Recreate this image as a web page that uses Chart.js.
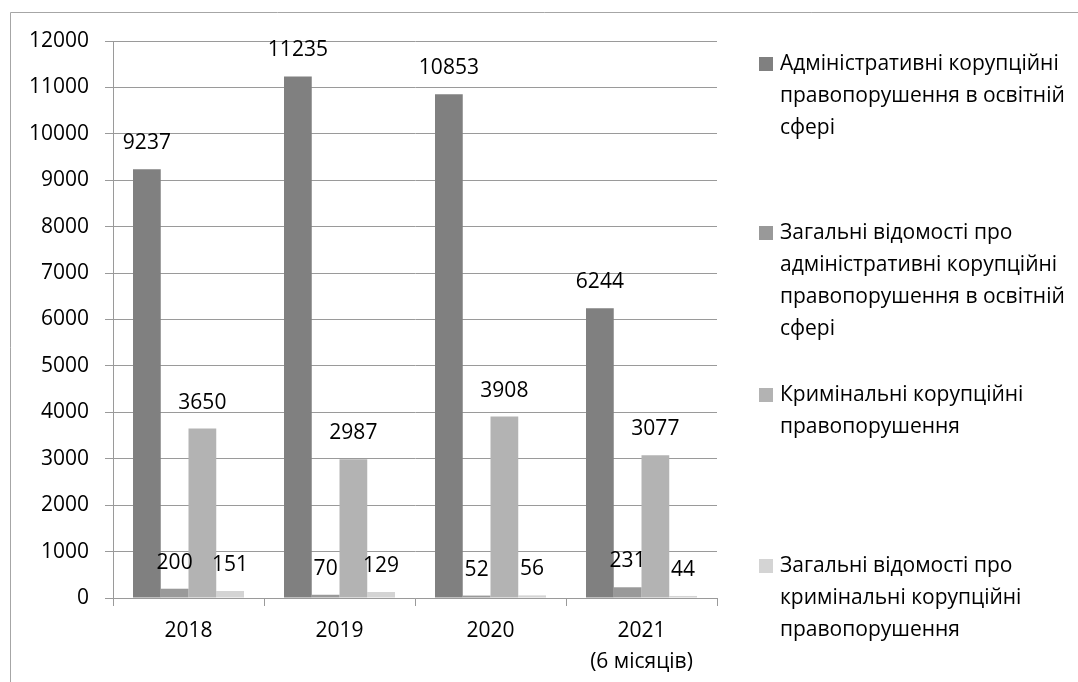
<!DOCTYPE html>
<html>
<head>
<meta charset="utf-8">
<script src="https://cdn.jsdelivr.net/npm/chart.js@4/dist/chart.umd.min.js"></script>
<style>
  html, body { margin: 0; padding: 0; background: #ffffff; }
  #wrap { width: 1078px; height: 682px; position: relative; }
</style>
</head>
<body>
<div id="wrap"><canvas id="c" width="1078" height="682"></canvas></div>
<script>
// ---- data ----
const categories = [["2018"], ["2019"], ["2020"], ["2021", "(6 місяців)"]];
const seriesNames = [
  ["Адміністративні корупційні", "правопорушення в освітній", "сфері"],
  ["Загальні відомості про", "адміністративні корупційні", "правопорушення в освітній", "сфері"],
  ["Кримінальні корупційні", "правопорушення"],
  ["Загальні відомості про", "кримінальні корупційні", "правопорушення"]
];
const adminEdu = [9237, 11235, 10853, 6244];
const adminGeneral = [200, 70, 52, 231];
const criminal = [3650, 2987, 3908, 3077];
const criminalGeneral = [151, 129, 56, 44];
const yTicks = [0, 1000, 2000, 3000, 4000, 5000, 6000, 7000, 8000, 9000, 10000, 11000, 12000];

// ---- styles ----
const FONT = "'Open Sans', 'Liberation Sans', sans-serif";
const FSIZE = 21;
const colors = ["#808080", "#999999", "#b3b3b3", "#d4d4d4"];
const gridColor = "#9a9a9a";
const seriesValues = [adminEdu, adminGeneral, criminal, criminalGeneral];

const borderPlugin = {
  id: "outerBorder",
  beforeDraw(chart) {
    const ctx = chart.ctx;
    ctx.save();
    ctx.strokeStyle = "#a6a6a6";
    ctx.lineWidth = 1;
    ctx.beginPath();
    ctx.moveTo(10.5, 700);
    ctx.lineTo(10.5, 12.5);
    ctx.lineTo(1100, 12.5);
    ctx.stroke();
    ctx.restore();
  }
};

const labelPlugin = {
  id: "valueLabels",
  afterDatasetsDraw(chart) {
    const ctx = chart.ctx;
    ctx.save();
    ctx.font = FSIZE + "px " + FONT;
    ctx.fillStyle = "#000000";
    ctx.textAlign = "center";
    ctx.textBaseline = "middle";
    chart.data.datasets.forEach((ds, di) => {
      const meta = chart.getDatasetMeta(di);
      meta.data.forEach((bar, i) => {
        ctx.fillText(String(ds.data[i]), bar.x, bar.y - 26);
      });
    });
    ctx.restore();
  }
};

const legendPlugin = {
  id: "sideLegend",
  afterDraw(chart) {
    const ctx = chart.ctx;
    const starts = [64, 233, 395, 566];
    const lh = 32;
    ctx.save();
    ctx.font = FSIZE + "px " + FONT;
    ctx.textAlign = "left";
    ctx.textBaseline = "middle";
    chart.data.datasets.forEach((ds, di) => {
      const y0 = starts[di];
      ctx.fillStyle = ds.backgroundColor;
      ctx.fillRect(759, y0 - 7, 14, 14);
      ctx.fillStyle = "#000000";
      ds.label.forEach((line, li) => {
        ctx.fillText(line, 780, y0 + li * lh);
      });
    });
    ctx.restore();
  }
};

new Chart(document.getElementById("c"), {
  type: "bar",
  data: {
    labels: categories,
    datasets: seriesValues.map((vals, i) => ({
      label: seriesNames[i],
      data: vals,
      backgroundColor: colors[i],
      borderWidth: 0,
      barPercentage: 1.0,
      categoryPercentage: 0.735
    }))
  },
  options: {
    responsive: false,
    animation: false,
    devicePixelRatio: 1,
    layout: { padding: { left: 0, top: 41, right: 361, bottom: 0 } },
    plugins: { legend: { display: false }, tooltip: { enabled: false } },
    scales: {
      x: {
        offset: true,
        grid: { display: true, offset: true, drawOnChartArea: false, drawTicks: true, tickLength: 8, color: gridColor },
        border: { display: true, color: gridColor },
        ticks: { color: "#000000", font: { family: FONT, size: FSIZE, lineHeight: 1.45 }, padding: 10, maxRotation: 0, autoSkip: false },
        afterFit(scale) { scale.height = 84; }
      },
      y: {
        min: 0, max: 12000,
        afterBuildTicks(scale) { scale.ticks = yTicks.map(v => ({ value: v })); },
        grid: { color: gridColor, tickLength: 8 },
        border: { display: true, color: gridColor },
        ticks: { color: "#000000", font: { family: FONT, size: FSIZE }, padding: 16, callback: (v) => String(v) },
        afterFit(scale) { scale.width = 113; }
      }
    }
  },
  plugins: [borderPlugin, labelPlugin, legendPlugin]
});
</script>
</body>
</html>
